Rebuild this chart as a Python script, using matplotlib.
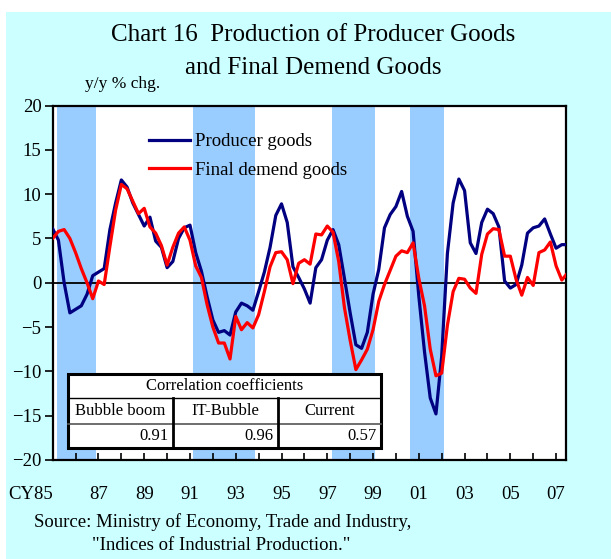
import matplotlib
matplotlib.use("Agg")
import matplotlib.pyplot as plt
from matplotlib.patches import Rectangle
import numpy as np

plt.rcParams['font.family'] = ['Liberation Serif', 'DejaVu Serif']

# quarterly, y/y % change, 1985Q1 onward
start_year = 1985
producer = [6.1, 4.8, 0.0, -3.4, -3.0, -2.6, -1.3, 0.8, 1.2, 1.6,
            6.0, 9.0, 11.6, 10.8, 9.0, 7.7, 6.4, 7.4, 4.7, 4.0,
            1.7, 2.4, 5.0, 6.2, 6.5, 3.4, 1.3, -1.6, -4.2, -5.6,
            -5.4, -5.9, -3.3, -2.3, -2.6, -3.1, -1.0, 1.2, 4.0, 7.6,
            8.9, 6.8, 1.8, 0.6, -0.7, -2.3, 1.7, 2.6, 4.8, 6.0,
            4.3, 0.5, -3.4, -7.0, -7.4, -5.6, -1.3, 1.5, 6.2, 7.7,
            8.6, 10.3, 7.5, 5.8, -1.5, -7.8, -13.0, -14.8, -8.3, 3.3,
            9.0, 11.7, 10.4, 4.5, 3.3, 6.8, 8.3, 7.8, 6.3, 0.2,
            -0.6, -0.2, 2.0, 5.6, 6.2, 6.4, 7.2, 5.5, 3.9, 4.3, 4.3]
final_demand = [5.0, 5.8, 6.0, 5.0, 3.4, 1.6, 0.0, -1.8, 0.2, -0.2,
                4.1, 8.2, 11.1, 10.6, 9.2, 7.8, 8.4, 6.3, 5.6, 4.2,
                2.0, 4.0, 5.6, 6.3, 4.8, 1.9, 0.6, -2.5, -5.0, -6.8,
                -6.8, -8.6, -3.8, -5.3, -4.5, -5.1, -3.6, -1.0, 1.8, 3.4,
                3.5, 2.6, -0.1, 2.2, 2.6, 2.1, 5.5, 5.4, 6.4, 5.7,
                2.4, -2.8, -6.5, -9.8, -8.7, -7.5, -5.3, -2.1, -0.2, 1.4,
                3.0, 3.6, 3.4, 4.5, 0.5, -2.6, -7.5, -10.5, -10.2, -4.8,
                -1.0, 0.5, 0.4, -0.6, -1.2, 3.2, 5.5, 6.1, 6.0, 3.0,
                3.0, 0.4, -1.4, 0.6, -0.3, 3.4, 3.7, 4.6, 1.9, 0.3, 1.1]
quarters = start_year + np.arange(len(producer)) / 4

# shaded periods (recessions)
recessions = [(1985.2, 1986.9), (1991.15, 1993.85), (1997.2, 1999.1), (2000.6, 2002.1)]

periods = ["Bubble boom", "IT-Bubble", "Current"]
correlations = [0.91, 0.96, 0.57]

year_labels = ["CY85", "87", "89", "91", "93", "95", "97", "99", "01", "03", "05", "07"]

fig = plt.figure(figsize=(6.11, 5.59), dpi=100)
fig.patch.set_facecolor("white")
bg = Rectangle((6 / 611, 0), 1, 1 - 12 / 559, transform=fig.transFigure,
               facecolor="#CCFFFF", edgecolor="none", zorder=-10)
fig.add_artist(bg)

ax = fig.add_axes([52.7 / 611, 1 - 460 / 559, 513 / 611, 354.5 / 559])
ax.set_facecolor("white")

for a, b in recessions:
    ax.axvspan(a, b, color="#99CCFF", lw=0, zorder=1)

ax.axhline(0, color="black", lw=1.3, zorder=2)
ax.plot(quarters, producer, color="#000080", lw=2.3, label="Producer goods", zorder=3)
ax.plot(quarters, final_demand, color="#FF0000", lw=2.3, label="Final demend goods", zorder=4)

ax.set_xlim(1985, 2007.42)
ax.set_ylim(-20, 20)
ax.set_yticks(range(-20, 21, 5))
ax.set_xticks(range(1985, 2008, 2))
ax.set_xticklabels(year_labels)
ax.set_xticks(range(1986, 2008, 2), minor=True)
ax.tick_params(axis="y", direction="out", length=6, width=1.2, labelsize=13.5, pad=2)
ax.tick_params(axis="x", which="both", direction="in", length=5, width=1.2, labelsize=13.5, pad=19)
ax.get_xticklabels()[0].set_horizontalalignment("right")
for s in ax.spines.values():
    s.set_linewidth(1.6)

ax.legend(loc="upper left", bbox_to_anchor=(0.188, 0.922), frameon=False, fontsize=13.5,
          handlelength=2.2, handletextpad=0.25, labelspacing=0.62, borderpad=0, borderaxespad=0)

# correlation table
x0, x1 = 0.0292, 0.640
y_top, y_r1, y_r2, y_bot = 0.2417, 0.1757, 0.1016, 0.0347
cols = [x0, 0.2339, 0.4386, x1]
ax.add_patch(Rectangle((x0, y_bot), x1 - x0, y_top - y_bot, transform=ax.transAxes,
                       facecolor="white", edgecolor="black", lw=2.2, zorder=6))
ax.plot([x0, x1], [y_r1, y_r1], transform=ax.transAxes, color="black", lw=1.0, zorder=7)
ax.plot([x0, x1], [y_r2, y_r2], transform=ax.transAxes, color="#555555", lw=1.2, zorder=7)
for c in cols[1:3]:
    ax.plot([c, c], [y_bot, y_r1], transform=ax.transAxes, color="black", lw=2.0, zorder=7)
ax.text((x0 + x1) / 2, (y_top + y_r1) / 2, "Correlation coefficients", transform=ax.transAxes,
        ha="center", va="center", fontsize=12, zorder=8)
for i in range(3):
    ax.text((cols[i] + cols[i + 1]) / 2, (y_r1 + y_r2) / 2, periods[i], transform=ax.transAxes,
            ha="center", va="center", fontsize=12, zorder=8)
    ax.text(cols[i + 1] - 0.008, (y_r2 + y_bot) / 2, f"{correlations[i]:.2f}", transform=ax.transAxes,
            ha="right", va="center", fontsize=12, zorder=8)

fig.text(0.512, 0.938, "Chart 16  Production of Producer Goods", ha="center", va="center", fontsize=18)
fig.text(0.512, 0.878, "and Final Demend Goods", ha="center", va="center", fontsize=18)
fig.text(85 / 611, 1 - 84 / 559, "y/y % chg.", ha="left", va="center", fontsize=12.5)
fig.text(34 / 611, 1 - 522 / 559, "Source: Ministry of Economy, Trade and Industry,",
         ha="left", va="center", fontsize=13.5)
fig.text(92 / 611, 1 - 546 / 559, "\"Indices of Industrial Production.\"",
         ha="left", va="center", fontsize=13.5)

plt.savefig("out.png", dpi=100, facecolor=fig.get_facecolor())
